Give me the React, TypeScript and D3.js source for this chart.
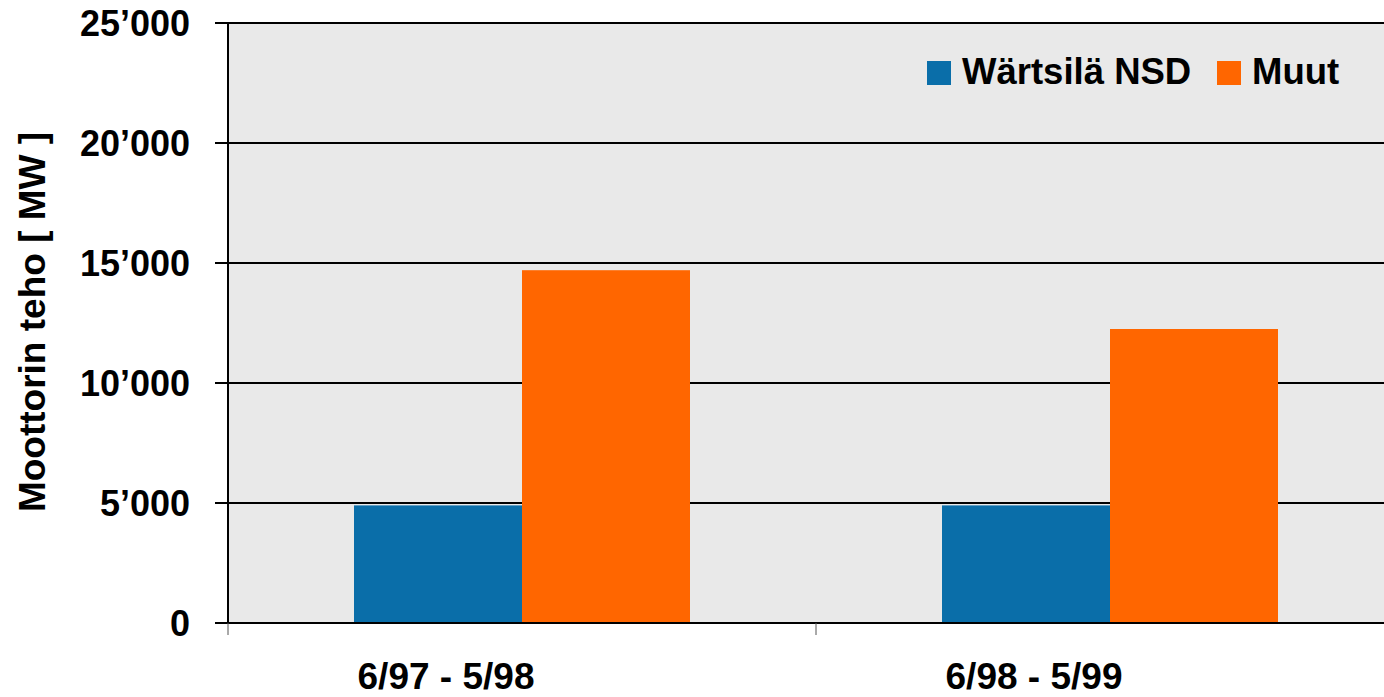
import * as d3 from "d3";
import { useEffect, useRef } from "react";

const categories = ["6/97 - 5/98", "6/98 - 5/99"];
const series = ["Wärtsilä NSD", "Muut"];
const wartsilaValues = [4900, 4900];
const muutValues = [14700, 12250];
const yTicks = [0, 5000, 10000, 15000, 20000, 25000];
const colors = ["#0a6ea9", "#ff6600"];

const font = "'Liberation Sans', Arial, sans-serif";

export default function App() {
  const svgRef = useRef<SVGSVGElement | null>(null);
  const width = 1384;
  const height = 697;

  useEffect(() => {
    const svg = d3.select(svgRef.current);
    svg.selectAll("*").remove();

    const left = 228;
    const top = 23;
    const bottom = 623;

    const x = d3.scaleBand().domain(categories).range([left, 1404]).paddingInner(0).paddingOuter(0);
    const inner = d3
      .scaleBand()
      .domain(series)
      .range([0, x.bandwidth()])
      .paddingInner(0)
      .paddingOuter(0.75);
    const y = d3.scaleLinear().domain([0, 25000]).range([bottom, top]);

    svg.append("rect")
      .attr("x", left)
      .attr("y", top)
      .attr("width", width - left)
      .attr("height", bottom - top)
      .attr("fill", "#e9e9e9");

    // grid lines
    svg.append("g")
      .selectAll("line")
      .data(yTicks)
      .join("line")
      .attr("x1", left - 13)
      .attr("x2", width)
      .attr("y1", (d) => y(d))
      .attr("y2", (d) => y(d))
      .attr("stroke", "#000")
      .attr("stroke-width", 2);

    const rows = categories.map((c, i) => ({ cat: c, values: [wartsilaValues[i], muutValues[i]] }));

    svg.append("g")
      .selectAll("g")
      .data(rows)
      .join("g")
      .attr("transform", (d) => `translate(${x(d.cat)},0)`)
      .selectAll("rect")
      .data((d) => d.values.map((v, j) => ({ key: series[j], v, j })))
      .join("rect")
      .attr("x", (d) => inner(d.key)!)
      .attr("width", inner.bandwidth())
      .attr("y", (d) => y(d.v))
      .attr("height", (d) => bottom - y(d.v))
      .attr("fill", (d) => colors[d.j]);

    // zero axis line over bars
    svg.append("line")
      .attr("x1", left - 13)
      .attr("x2", width)
      .attr("y1", bottom)
      .attr("y2", bottom)
      .attr("stroke", "#000")
      .attr("stroke-width", 2);

    // y axis line
    svg.append("line")
      .attr("x1", left)
      .attr("x2", left)
      .attr("y1", top)
      .attr("y2", bottom)
      .attr("stroke", "#000")
      .attr("stroke-width", 2);

    // category ticks
    svg.append("g")
      .selectAll("line")
      .data(categories)
      .join("line")
      .attr("x1", (d) => x(d)!)
      .attr("x2", (d) => x(d)!)
      .attr("y1", bottom)
      .attr("y2", bottom + 12)
      .attr("stroke", "#555")
      .attr("stroke-width", 1);

    // y tick labels
    svg.append("g")
      .selectAll("text")
      .data(yTicks)
      .join("text")
      .attr("x", 190)
      .attr("y", (d) => y(d) + 12.5)
      .attr("text-anchor", "end")
      .attr("font-family", font)
      .attr("font-weight", "bold")
      .attr("font-size", 36)
      .text((d) => (d === 0 ? "0" : d3.format(",")(d).replace(",", "’")));

    // category labels
    svg.append("g")
      .selectAll("text")
      .data(categories)
      .join("text")
      .attr("x", (d) => x(d)! + x.bandwidth() / 2 - 76)
      .attr("y", 689)
      .attr("text-anchor", "middle")
      .attr("font-family", font)
      .attr("font-weight", "bold")
      .attr("font-size", 37)
      .text((d) => d);

    // axis title
    svg.append("text")
      .attr("transform", `translate(45,322) rotate(-90)`)
      .attr("text-anchor", "middle")
      .attr("font-family", font)
      .attr("font-weight", "bold")
      .attr("font-size", 37)
      .text("Moottorin teho [ MW ]");

    // legend
    const legendX = [927, 1217];
    const lg = svg.append("g")
      .selectAll("g")
      .data(series)
      .join("g")
      .attr("transform", (_, i) => `translate(${legendX[i]},61)`);
    lg.append("rect")
      .attr("width", 24)
      .attr("height", 24)
      .attr("fill", (_, i) => colors[i]);
    lg.append("text")
      .attr("x", 35)
      .attr("y", 23)
      .attr("font-family", font)
      .attr("font-weight", "bold")
      .attr("font-size", 36.5)
      .text((d) => d);
  }, []);

  return (
    <svg
      ref={svgRef}
      width={width}
      height={height}
      style={{ position: "absolute", left: 0, top: 0, background: "#fff" }}
    ></svg>
  );
}
